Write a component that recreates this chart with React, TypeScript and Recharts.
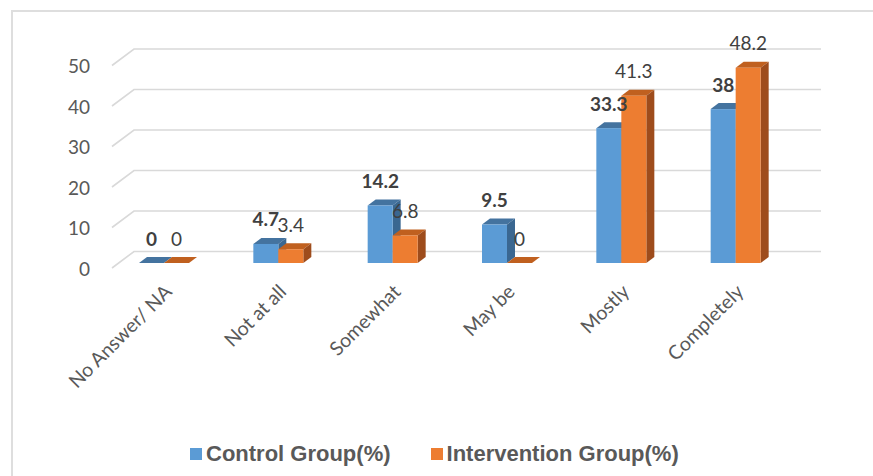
import { BarChart, Bar, XAxis, YAxis, CartesianGrid, LabelList } from 'recharts';

const categories = ['No Answer/ NA', 'Not at all', 'Somewhat', 'May be', 'Mostly', 'Completely'];
const controlValues = [0, 4.7, 14.2, 9.5, 33.3, 38];
const interventionValues = [0, 3.4, 6.8, 0, 41.3, 48.2];
const yTicks = [0, 10, 20, 30, 40, 50];

const data = categories.map((name, i) => ({
  name,
  control: controlValues[i],
  intervention: interventionValues[i],
}));

const FONT = 'Lato, "Open Sans", sans-serif';
const TEXT = '#595959';
const LABEL = '#404040';
const GRID = '#d9d9d9';

const BLUE = { front: '#5b9bd5', top: '#44739f', side: '#3a6791' };
const ORANGE = { front: '#ed7d31', top: '#c0601f', side: '#9e4c1c' };

// depth of the pseudo-3D extrusion
const DX = 8;
const DY = 6;

function make3DShape(colors: { front: string; top: string; side: string }) {
  return (props: any) => {
    const { x, y, width, height } = props;
    const h = Math.max(0, height || 0);
    return (
      <g>
        <path
          d={`M${x},${y} L${x + DX},${y - DY} L${x + width + DX},${y - DY} L${x + width},${y} Z`}
          fill={colors.top}
        />
        <path
          d={`M${x + width},${y} L${x + width + DX},${y - DY} L${x + width + DX},${y + h - DY} L${x + width},${y + h} Z`}
          fill={colors.side}
        />
        {h > 0 && <rect x={x} y={y} width={width} height={h} fill={colors.front} />}
      </g>
    );
  };
}

// back-wall gridline with the diagonal on the left side wall
function GridLine(props: any) {
  const { x1, x2, y1 } = props;
  return (
    <polyline
      key={props.key ?? `g-${y1}`}
      points={`${x1 + 5},${y1 + 5} ${x1 + 27},${y1 - 11.5} ${x2 + 28},${y1 - 11.5}`}
      fill="none"
      stroke={GRID}
      strokeWidth={1.6}
    />
  );
}

function YTick(props: any) {
  const { y, payload } = props;
  return (
    <text x={90} y={y + 5} textAnchor="end" dominantBaseline="central" fill={TEXT} fontSize={19} fontFamily={FONT}>
      {payload.value}
    </text>
  );
}

function XTick(props: any) {
  const { x, y, payload } = props;
  const tx = x + 9;
  const ty = y + 30;
  return (
    <text
      x={tx}
      y={ty}
      textAnchor="end"
      transform={`rotate(-45, ${tx}, ${ty})`}
      fill={TEXT}
      fontSize={19.5}
      fontFamily={FONT}
    >
      {payload.value}
    </text>
  );
}

function makeValueLabel(bold: boolean) {
  return (props: any) => {
    const { x, y, width, value } = props;
    return (
      <text
        x={x + width / 2}
        y={y - 25}
        textAnchor="middle"
        dominantBaseline="central"
        fill={LABEL}
        fontSize={19}
        fontWeight={bold ? 700 : 400}
        fontFamily={FONT}
      >
        {value}
      </text>
    );
  };
}

function LegendItem({ color, label }: { color: string; label: string }) {
  return (
    <div style={{ display: 'flex', alignItems: 'center' }}>
      <div style={{ width: 12, height: 12, background: color, marginRight: 4 }} />
      <span>{label}</span>
    </div>
  );
}

export default function App() {
  return (
    <div style={{ position: 'absolute', left: 0, top: 0, width: 873, height: 476, background: '#fff', overflow: 'hidden' }}>
      <div
        style={{
          position: 'absolute',
          left: 11,
          top: 10,
          width: 900,
          height: 500,
          borderTop: `2px solid #dedede`,
          borderLeft: `2px solid #dedede`,
        }}
      />
      <BarChart
        width={873}
        height={476}
        data={data}
        margin={{ top: 60.5, right: 80, bottom: 0, left: 0 }}
        barSize={25}
        barGap={0}
        style={{ position: 'absolute', left: 0, top: 0 }}
      >
        <CartesianGrid vertical={false} horizontal={(p: any) => <GridLine {...p} />} />
        <XAxis
          dataKey="name"
          height={213}
          axisLine={false}
          tickLine={false}
          tickSize={0}
          tickMargin={0}
          interval={0}
          tick={<XTick />}
        />
        <YAxis
          width={107}
          domain={[0, 50]}
          ticks={yTicks}
          axisLine={false}
          tickLine={false}
          tick={<YTick />}
        />
        <Bar dataKey="control" isAnimationActive={false} shape={make3DShape(BLUE)}>
          <LabelList dataKey="control" content={makeValueLabel(true)} />
        </Bar>
        <Bar dataKey="intervention" isAnimationActive={false} shape={make3DShape(ORANGE)}>
          <LabelList dataKey="intervention" content={makeValueLabel(false)} />
        </Bar>
      </BarChart>
      <div
        style={{
          position: 'absolute',
          left: 190,
          top: 440,
          display: 'flex',
          gap: 40,
          fontFamily: '"Liberation Sans", Arial, sans-serif',
          fontWeight: 700,
          fontSize: 22,
          color: TEXT,
          lineHeight: '28px',
        }}
      >
        <LegendItem color={BLUE.front} label="Control Group(%)" />
        <LegendItem color={ORANGE.front} label="Intervention Group(%)" />
      </div>
    </div>
  );
}
